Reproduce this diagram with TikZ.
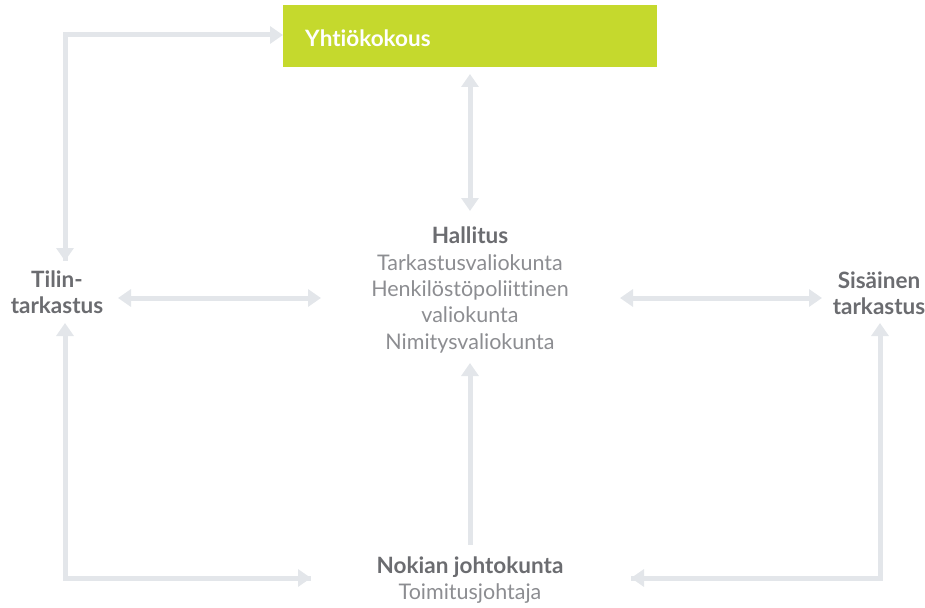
\documentclass[tikz,border=0pt]{standalone}
\usepackage{fontspec}
\setmainfont{Lato}[Ligatures={NoCommon}]
\usetikzlibrary{arrows.meta}
\definecolor{conncol}{HTML}{E3E6EA}
\definecolor{lime}{HTML}{C5D92D}
\definecolor{darktext}{HTML}{6B6C70}
\definecolor{lighttext}{HTML}{8C8D91}
\tikzset{
  conn/.style={draw=conncol, line width=5pt, arrows={-Triangle[width=17pt,length=13pt]}},
  conn2/.style={draw=conncol, line width=5pt, arrows={Triangle[width=17pt,length=13pt]-Triangle[width=17pt,length=13pt]}},
  lbl/.style={align=center, inner sep=0pt, font=\fontsize{21.5}{26.3}\selectfont},
  bd/.style={align=center, inner sep=0pt, text=darktext, font=\fontsize{22.5}{26.5}\selectfont\bfseries}
}
\newcommand{\bdt}[1]{{\fontsize{22.5}{26.3}\selectfont\bfseries\color{darktext}#1}}
\begin{document}
\begin{tikzpicture}[x=1pt,y=-1pt]
\useasboundingbox (0,0) rectangle (925,607);
% nodes
\node[fill=lime, minimum width=374pt, minimum height=62pt, text width=330pt, inner xsep=22pt, inner ysep=0pt, text height=20pt, text depth=0pt, align=left, text=white, font=\fontsize{22.5}{26}\selectfont\bfseries, anchor=north west] (gm) at (283,5) {Yhtiökokous};
\node[lbl, text=lighttext] (hal) at (470,290) {\bdt{Hallitus}\\Tarkastusvaliokunta\\Henkilöstöpoliittinen\\valiokunta\\Nimitysvaliokunta};
\node[bd] (tt) at (57,292) {Tilin-\\tarkastus};
\node[bd] (st) at (879,293) {Sisäinen\\tarkastus};
\node[lbl, text=lighttext] (nj) at (470,580) {\bdt{Nokian johtokunta}\\Toimitusjohtaja};
% coordinates
\coordinate (c1) at (65,35);
\coordinate (c2) at (65,578);
\coordinate (c3) at (880,578);
\coordinate (gmL) at (283,35);
\coordinate (ttT) at (65,261);
\coordinate (ttB) at (65,323);
\coordinate (stB) at (880,323);
\coordinate (ttR) at (118,298);
\coordinate (halL) at (321,298);
\coordinate (halR) at (620,298);
\coordinate (stL) at (822,298);
\coordinate (gmB) at (470,74);
\coordinate (halT) at (470,211);
\coordinate (halB) at (470,363);
\coordinate (njT) at (470,545);
\coordinate (njL) at (311,578);
\coordinate (njR) at (631,578);
% connectors
\draw[conn] (ttT) -- (c1) -- (gmL);
\draw[conn] (c1) -- (ttT);
\draw[conn] (njL) -- (c2) -- (ttB);
\draw[conn] (c2) -- (njL);
\draw[conn] (njR) -- (c3) -- (stB);
\draw[conn] (c3) -- (njR);
\draw[conn2] (ttR) -- (halL);
\draw[conn2] (halR) -- (stL);
\draw[conn2] (gmB) -- (halT);
\draw[conn] (njT) -- (halB);
\end{tikzpicture}
\end{document}
